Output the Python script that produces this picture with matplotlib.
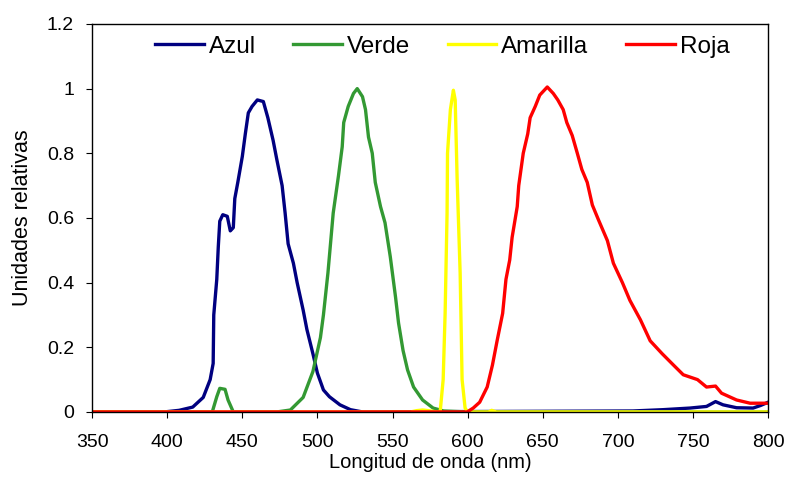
import numpy as np
import matplotlib.pyplot as plt

plt.rcParams['font.family'] = ['Liberation Sans', 'DejaVu Sans']

# Espectros relativos de los LED (longitud de onda en nm, intensidad relativa)
azul_x = [350, 398, 408, 417, 424, 428.6, 430.6, 431, 433, 434, 435, 437, 440, 442, 444,
          445, 447, 450, 452, 454, 456.5, 460, 464, 467, 470.5, 473, 476.5, 478.5,
          480.5, 484, 486.5, 490.5, 493, 497, 500, 504, 508, 515, 522, 530, 710,
          730, 748, 759, 765, 770, 779, 790, 795, 800]
azul_y = [0, 0, 0.005, 0.015, 0.045, 0.10, 0.15, 0.30, 0.41, 0.51, 0.59, 0.61, 0.605,
          0.56, 0.57, 0.66, 0.71, 0.79, 0.86, 0.925, 0.945, 0.965, 0.96, 0.91, 0.84,
          0.78, 0.70, 0.615, 0.52, 0.46, 0.40, 0.315, 0.255, 0.18, 0.12, 0.068,
          0.047, 0.022, 0.007, 0, 0.003, 0.007, 0.012, 0.017, 0.032, 0.022, 0.013,
          0.012, 0.02, 0.03]

verde_x = [350, 430, 433, 435, 438.5, 440.5, 444, 473, 482, 490.5, 497, 502, 504, 507,
           510.5, 514, 516.5, 517.5, 520.5, 524, 526.5, 530, 532, 534, 536.5, 538.5,
           542, 545, 548.5, 552, 554, 557, 560, 564, 570, 577, 584, 600, 800]
verde_y = [0, 0, 0.047, 0.073, 0.07, 0.037, 0, 0, 0.006, 0.045, 0.125, 0.23, 0.30,
           0.43, 0.615, 0.73, 0.82, 0.895, 0.945, 0.985, 1.0, 0.975, 0.935, 0.85,
           0.80, 0.71, 0.635, 0.585, 0.48, 0.355, 0.275, 0.19, 0.13, 0.077, 0.037,
           0.012, 0.003, 0, 0]

amarilla_x = [350, 562, 566, 570, 574, 578, 581.7, 583.7, 585, 586.3, 586.6, 588.5,
              590.5, 591.7, 593, 595, 596.3, 598.3, 600, 614, 616, 619, 800]
amarilla_y = [0, 0, 0.004, 0.006, 0.004, 0.001, 0, 0.10, 0.305, 0.615, 0.80, 0.935,
              0.995, 0.965, 0.72, 0.43, 0.10, 0.012, 0, 0, 0.005, 0, 0]

roja_x = [350, 599.7, 603.7, 608, 613, 616.5, 619.6, 623.3, 625.5, 628, 629.6, 633,
          634, 637, 640, 641.6, 645, 648, 653, 657, 660, 663.6, 666, 669.6, 673, 676,
          679.6, 683, 687, 693, 697, 703, 708, 715, 721.5, 729.5, 737, 743.5, 753,
          759, 765, 769, 779, 788, 800]
roja_y = [0, 0, 0.012, 0.03, 0.077, 0.145, 0.22, 0.305, 0.41, 0.47, 0.54, 0.635, 0.70,
          0.80, 0.86, 0.91, 0.945, 0.98, 1.005, 0.985, 0.965, 0.935, 0.895, 0.855,
          0.80, 0.75, 0.71, 0.64, 0.595, 0.53, 0.46, 0.40, 0.345, 0.285, 0.22, 0.18,
          0.145, 0.115, 0.10, 0.077, 0.08, 0.058, 0.037, 0.027, 0.027]

series = [
    ("Azul", azul_x, azul_y, "#000080"),
    ("Verde", verde_x, verde_y, "#339933"),
    ("Amarilla", amarilla_x, amarilla_y, "#FFFF00"),
    ("Roja", roja_x, roja_y, "#FF0000"),
]

fig = plt.figure(figsize=(7.87, 4.79), dpi=100)
ax = fig.add_axes([0.117, 0.140, 0.859, 0.810])

for name, xs, ys, color in series:
    ax.plot(xs, ys, color=color, linewidth=2.4, label=name, solid_joinstyle="round")

ax.set_xlim(350, 800)
ax.set_ylim(0, 1.2)
ax.set_xticks(np.arange(350, 801, 50))
ax.set_yticks(np.arange(0, 1.21, 0.2))
ax.yaxis.set_major_formatter(plt.FormatStrFormatter("%g"))
ax.tick_params(direction="out", length=4, width=0.8, labelsize=14, colors="black")
ax.tick_params(axis="x", pad=12)
ax.tick_params(axis="y", pad=9)

for spine in ax.spines.values():
    spine.set_color("black")
    spine.set_linewidth(1.0)

ax.set_xlabel("Longitud de onda (nm)", fontsize=14.5, labelpad=1)
ax.set_ylabel("Unidades relativas", fontsize=15.5, labelpad=10)

ax.legend(loc="center", bbox_to_anchor=(0.518, 0.941), ncol=4, frameon=False,
          fontsize=17.5, handlelength=2.0, handletextpad=0.2, columnspacing=1.55,
          borderpad=0)

fig.savefig("out.png", dpi=100)
